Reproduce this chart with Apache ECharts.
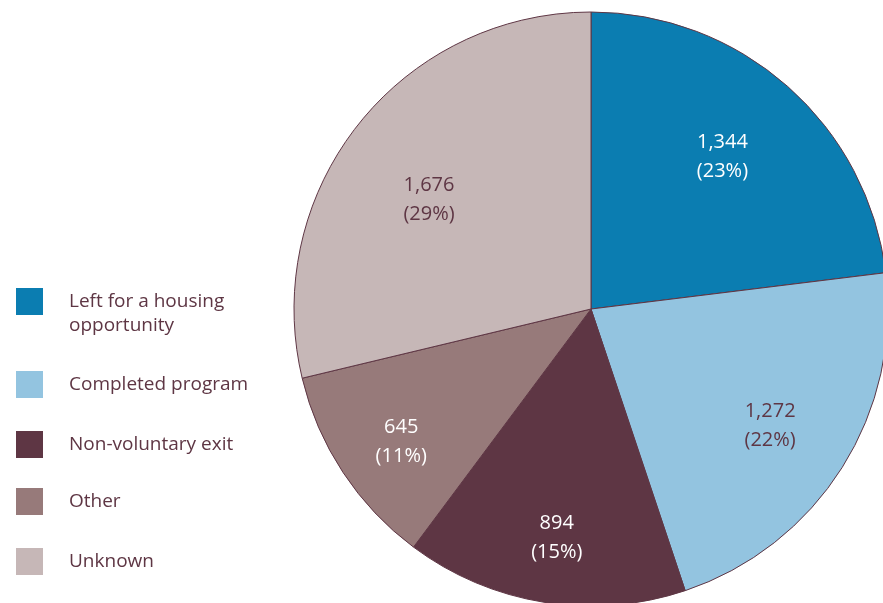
<!DOCTYPE html>
<html>
<head>
<meta charset="utf-8">
<script src="https://cdn.jsdelivr.net/npm/echarts@6/dist/echarts.min.js"></script>
<style>
  html, body { margin: 0; padding: 0; background: #fff; }
  #main { width: 883px; height: 603px; }
</style>
</head>
<body>
<div id="main"></div>
<script>
// exit reasons, clockwise from 12 o'clock
const categories = [
  "Left for a housing opportunity",
  "Completed program",
  "Non-voluntary exit",
  "Other",
  "Unknown"
];
const counts = [1344, 1272, 894, 645, 1676];
const sliceColors = ["#0b7db1", "#93c4e0", "#5e3644", "#977a7a", "#c6b7b7"];
const labelColors = ["#ffffff", "#5e3644", "#ffffff", "#ffffff", "#5e3644"];
// small hand nudges so the value labels sit where the original put them
const labelNudge = [[-12, 10], [-4, 1], [0, 15], [-9, 14], [8, 25]];

const ink = "#5e3644";
const font = "Open Sans";

const pieData = categories.map((name, i) => ({
  name: name,
  value: counts[i],
  itemStyle: { color: sliceColors[i] }
}));

const labelData = categories.map((name, i) => ({
  name: name,
  value: counts[i],
  label: { color: labelColors[i], offset: labelNudge[i] }
}));

// one legend per entry so the spacing can follow the picture
const legendTops = [262, 369, 429, 486, 546];
const legends = categories.map((name, i) => ({
  data: [name],
  left: 16,
  top: legendTops[i],
  padding: 0,
  icon: "rect",
  itemWidth: 27,
  itemHeight: 27,
  selectedMode: false,
  itemStyle: { borderWidth: 0 },
  // leading blank line keeps the swatch level with the first line
  formatter: (n) => n === categories[0] ? "\nLeft for a housing\nopportunity" : n,
  textStyle: {
    color: ink,
    fontFamily: font,
    fontSize: 19,
    lineHeight: 24,
    padding: [7, 0, 0, 21]
  }
}));

const options = {
  animation: false,
  legend: legends,
  series: [
    {
      name: "exits",
      type: "pie",
      center: [591, 309],
      radius: [0, 297],
      startAngle: 90,
      clockwise: true,
      silent: true,
      label: { show: false },
      labelLine: { show: false },
      itemStyle: { borderColor: ink, borderWidth: 1 },
      data: pieData
    },
    {
      // invisible ring, only used to place the value labels further out
      name: "labels",
      type: "pie",
      center: [591, 309],
      radius: [130, 297],
      startAngle: 90,
      clockwise: true,
      silent: true,
      itemStyle: { color: "rgba(0,0,0,0)", borderWidth: 0 },
      labelLine: { show: false },
      label: {
        show: true,
        position: "inside",
        fontFamily: font,
        fontSize: 20,
        lineHeight: 29,
        formatter: (p) => p.value.toLocaleString("en-US") + "\n(" + Math.round(p.percent) + "%)"
      },
      data: labelData
    }
  ]
};

let myChart = echarts.init(document.getElementById("main"));
myChart.setOption(options);
</script>
</body>
</html>
